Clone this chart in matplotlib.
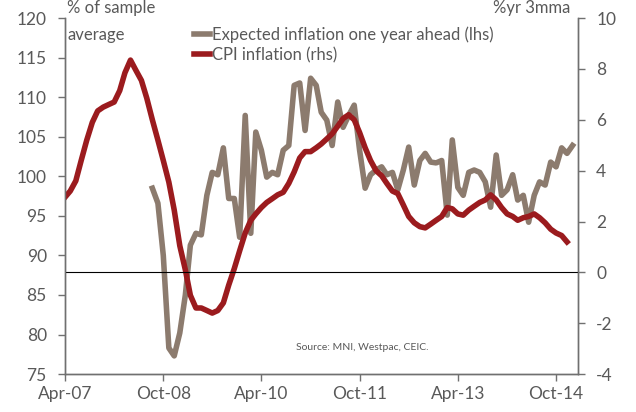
import numpy as np
import pandas as pd
from matplotlib import pyplot as plt
import matplotlib.dates as mdates

plt.rcParams['font.family'] = ['Lato', 'DejaVu Sans']
plt.rcParams['axes.unicode_minus'] = False

# monthly CPI inflation, %yr 3mma (rhs), Apr-07 .. Dec-14
cpi = [2.95, 3.2, 3.6, 4.4, 5.2, 5.9, 6.35, 6.5, 6.6, 6.7, 7.15, 7.85, 8.35,
       7.95, 7.55, 6.85, 6.0, 5.2, 4.4, 3.55, 2.45, 1.05, 0.1, -0.9, -1.4,
       -1.4, -1.5, -1.6, -1.5, -1.2, -0.5, 0.15, 0.85, 1.55, 2.05, 2.3, 2.55,
       2.75, 2.9, 3.05, 3.15, 3.5, 3.95, 4.5, 4.75, 4.75, 4.9, 5.05, 5.25,
       5.45, 5.75, 6.05, 6.2, 6.0, 5.5, 4.9, 4.4, 4.0, 3.8, 3.5, 3.2, 3.1,
       2.65, 2.2, 1.95, 1.8, 1.75, 1.9, 2.05, 2.2, 2.55, 2.5, 2.3, 2.25, 2.45,
       2.6, 2.75, 2.85, 3.05, 2.85, 2.55, 2.3, 2.2, 2.05, 2.15, 2.2, 2.3,
       2.15, 1.95, 1.7, 1.55, 1.45, 1.2]
# expected inflation one year ahead, % of sample average (lhs), Aug-08 .. Jan-15
expected = [98.5, 96.6, 90.0, 78.3, 77.3, 80.2, 85.0, 91.3, 92.8, 92.6, 97.6,
            100.5, 100.2, 103.6, 97.2, 97.2, 92.3, 107.7, 92.8, 105.6, 103.3,
            99.9, 100.5, 100.2, 103.3, 103.9, 111.5, 111.8, 105.8, 112.4,
            111.5, 108.1, 107.1, 103.9, 109.4, 106.2, 107.7, 109.0, 103.3,
            98.5, 100.2, 100.8, 101.2, 100.2, 100.5, 98.3, 100.8, 103.7, 98.9,
            102.0, 102.9, 101.8, 101.7, 102.0, 95.1, 104.6, 98.6, 97.6, 100.5,
            100.8, 100.5, 99.3, 96.1, 102.7, 97.6, 98.3, 100.2, 97.0, 97.6,
            94.2, 97.6, 99.3, 98.9, 101.8, 101.2, 103.6, 102.9, 103.9]

cpi_dates = pd.date_range('2007-04-01', periods=len(cpi), freq='MS')
exp_dates = pd.date_range('2008-08-01', periods=len(expected), freq='MS')
tick_dates = pd.date_range('2007-04-01', '2015-01-01', freq='18MS')

grey = '#8c7b6e'
red = '#9b1b1e'
txt = '#595959'

fig = plt.figure(figsize=(6.36, 4.12), dpi=100)
ax = fig.add_axes([0.102, 0.092, 0.807, 0.864])
ax2 = ax.twinx()

l1, = ax.plot(exp_dates, expected, color=grey, lw=4.0,
              label='Expected inflation one year ahead (lhs)')
l2, = ax2.plot(cpi_dates, cpi, color=red, lw=4.0,
               label='CPI inflation (rhs)')
ax2.axhline(0, color='black', lw=0.8)

ax.set_ylim(75, 120)
ax.set_yticks(np.arange(75, 121, 5))
ax2.set_ylim(-4, 10)
ax2.set_yticks(np.arange(-4, 11, 2))
ax.set_xlim(pd.Timestamp('2007-04-01'), pd.Timestamp('2015-02-01'))
ax.set_xticks(tick_dates)
ax.xaxis.set_major_formatter(mdates.DateFormatter('%b-%y'))

for a in (ax, ax2):
    a.spines['top'].set_visible(False)
    for s in ('left', 'right', 'bottom'):
        a.spines[s].set_color('#707070')
        a.spines[s].set_linewidth(1.0)
    a.tick_params(colors='#707070', labelcolor=txt, labelsize=12.5,
                  length=5, width=1.0, direction='out')
ax.tick_params(axis='y', pad=8)
ax2.tick_params(axis='y', pad=8)

ax.text(0.005, 1.006, '% of sample', transform=ax.transAxes, fontsize=12,
        color=txt, va='bottom', ha='left')
ax.text(0.005, 0.975, 'average', transform=ax.transAxes, fontsize=12,
        color=txt, va='top', ha='left')
ax.text(0.985, 1.006, '%yr 3mma', transform=ax.transAxes, fontsize=12,
        color=txt, va='bottom', ha='right')
ax.text(0.45, 0.075, 'Source: MNI, Westpac, CEIC.', transform=ax.transAxes,
        fontsize=7.5, color=txt, va='center', ha='left')

leg = ax.legend(handles=[l1, l2], loc='upper left', bbox_to_anchor=(0.235, 1.0),
                frameon=False, fontsize=12, handlelength=1.0, handletextpad=0.1,
                labelspacing=0.25, borderaxespad=0.1)
for t in leg.get_texts():
    t.set_color(txt)

plt.savefig('out.png', dpi=100)
